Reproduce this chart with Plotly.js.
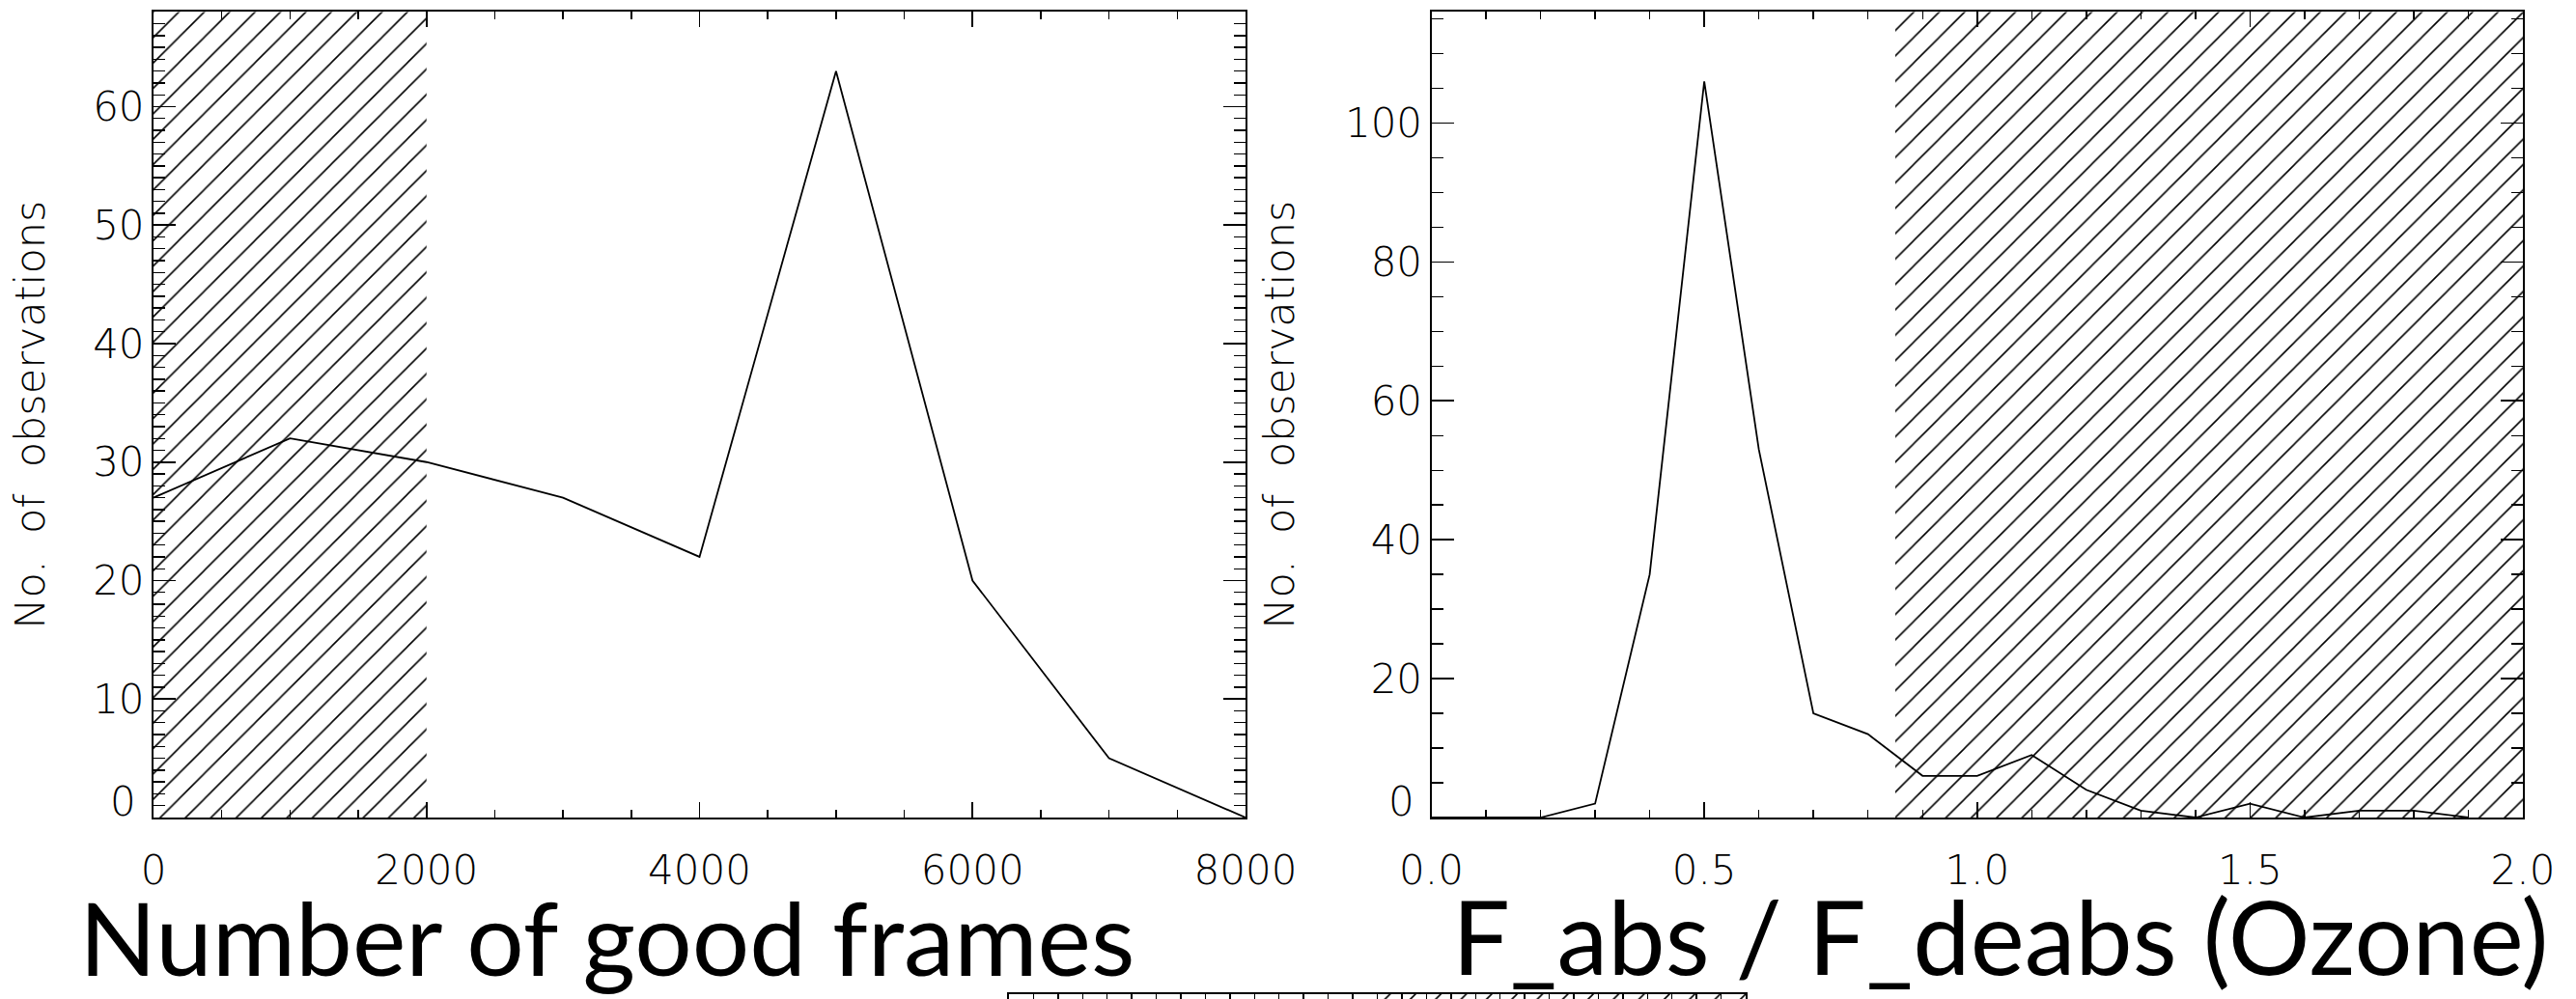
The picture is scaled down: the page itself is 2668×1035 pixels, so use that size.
<!DOCTYPE html>
<html>
<head>
<meta charset="utf-8">
<script src="https://cdn.plot.ly/plotly-3.0.1.min.js"></script>
<style>
  html, body { margin: 0; padding: 0; background: #ffffff; }
  #chart { width: 2668px; height: 1035px; }
</style>
</head>
<body>
<div id="chart"></div>
<script>
// ---- data ----
const framesX = [0, 1000, 2000, 3000, 4000, 5000, 6000, 7000, 8000];
const framesN = [27, 32, 30, 27, 22, 63, 20, 5, 0];

const ratioX = [0.0, 0.1, 0.2, 0.3, 0.4, 0.5, 0.6, 0.7, 0.8, 0.9, 1.0, 1.1, 1.2, 1.3, 1.4, 1.5, 1.6, 1.7, 1.8, 1.9];
const ratioN = [0, 0, 0, 2, 35, 106, 53, 15, 12, 6, 6, 9, 4, 1, 0, 2, 0, 1, 1, 0];

// hatched (rejected) intervals
const framesHatch = [0, 2000];
const ratioHatch = [0.85, 2.0];

// axis ranges
const framesXRange = [0, 8000];
const framesYRange = [0, 68];
const ratioXRange = [0, 2];
const ratioYRange = [0, 116];

// tick labels
const framesYTicks = [0, 10, 20, 30, 40, 50, 60];
const framesYText = ['', '10', '20', '30', '40', '50', '60'];
const ratioYTicks = [0, 20, 40, 60, 80, 100];
const ratioYText = ['', '20', '40', '60', '80', '100'];

// fragment of a panel cut off at the bottom edge
const fragRange = [0, 30];
const fragHatch = [15.2, 30];
const fragYRange = [0, 1];

const xTitleLeft = 'Number of good frames';
const xTitleRight = 'F_abs / F_deabs (Ozone)';
const yTitle = 'No.\u00a0 of\u00a0 observations';

// ---- helpers ----
function box(xs, ys) {
  return { x: [xs[0], xs[1], xs[1], xs[0], xs[0]], y: [ys[0], ys[0], ys[1], ys[1], ys[0]] };
}
function hatchTrace(xs, yr, xa, ya) {
  const b = box(xs, yr);
  return {
    type: 'scatter', mode: 'lines', x: b.x, y: b.y, xaxis: xa, yaxis: ya,
    fill: 'toself', fillcolor: 'rgba(0,0,0,0)',
    fillpattern: { shape: '/', size: 18.6, solidity: 0.085, fgcolor: '#000000', bgcolor: 'rgba(0,0,0,0)', fillmode: 'replace' },
    line: { width: 0, color: 'rgba(0,0,0,0)' },
    hoverinfo: 'skip', showlegend: false
  };
}

const tickFont = { family: 'DejaVu Sans', size: 42, weight: 200, color: '#000000' };
const titleFont = { family: 'DejaVu Sans', size: 43, weight: 200, color: '#000000' };
const bigFontL = { family: 'Lato', size: 105, color: '#000000' };
const bigFontR = { family: 'Lato', size: 106, color: '#000000' };

const rowDomain = [1 - 847 / 1035, 1 - 12.3 / 1035];

function xAxis(domain, range, dtick, minorDtick, anchor, fmt) {
  return {
    domain: domain, range: range, anchor: anchor,
    showline: true, linewidth: 2, linecolor: '#000000', mirror: 'allticks',
    ticks: 'inside', ticklen: 16, tickwidth: 1.6, tickcolor: '#000000',
    tick0: 0, dtick: dtick, tickformat: fmt,
    minor: { dtick: minorDtick, ticks: 'inside', ticklen: 8, tickwidth: 1.4, tickcolor: '#000000', showgrid: false },
    showgrid: false, zeroline: false,
    tickfont: tickFont, ticklabelstandoff: 17
  };
}
function yAxis(range, vals, text, minorDtick, anchor, standoff) {
  return {
    domain: rowDomain, range: range, anchor: anchor,
    showline: true, linewidth: 2, linecolor: '#000000', mirror: 'allticks',
    ticks: 'inside', ticklen: 23, tickwidth: 1.6, tickcolor: '#000000',
    tickmode: 'array', tickvals: vals, ticktext: text,
    minor: { dtick: minorDtick, ticks: 'inside', ticklen: 12, tickwidth: 1.4, tickcolor: '#000000', showgrid: false },
    showgrid: false, zeroline: false,
    tickfont: tickFont, ticklabelstandoff: -1,
    title: { text: yTitle, font: titleFont, standoff: standoff }
  };
}

const traces = [
  hatchTrace(framesHatch, framesYRange, 'x', 'y'),
  { type: 'scatter', mode: 'lines', x: framesX, y: framesN, xaxis: 'x', yaxis: 'y',
    line: { color: '#000000', width: 1.8 }, showlegend: false },
  hatchTrace(ratioHatch, ratioYRange, 'x2', 'y2'),
  { type: 'scatter', mode: 'lines', x: ratioX, y: ratioN, xaxis: 'x2', yaxis: 'y2',
    line: { color: '#000000', width: 1.8 }, showlegend: false },
  hatchTrace(fragHatch, fragYRange, 'x3', 'y3')
];

const layout = {
  width: 2668, height: 1035,
  margin: { l: 0, r: 0, t: 0, b: 0, pad: 0 },
  paper_bgcolor: '#ffffff', plot_bgcolor: '#ffffff',
  showlegend: false,
  xaxis: xAxis([159 / 2668, 1290 / 2668], framesXRange, 2000, 500, 'y', 'd'),
  yaxis: yAxis(framesYRange, framesYTicks, framesYText, 1, 'x', 36),
  xaxis2: xAxis([1482.5 / 2668, 2613 / 2668], ratioXRange, 0.5, 0.1, 'y2', '.1f'),
  yaxis2: yAxis(ratioYRange, ratioYTicks, ratioYText, 5, 'x2', 39),
  xaxis3: {
    domain: [1045 / 2668, 1808 / 2668], range: fragRange, anchor: 'y3', side: 'top',
    showline: true, linewidth: 2, linecolor: '#000000', mirror: false,
    ticks: 'inside', ticklen: 7, tickwidth: 1.4, tickcolor: '#000000', dtick: 1,
    showticklabels: false, showgrid: false, zeroline: false
  },
  yaxis3: {
    domain: [0, 5 / 1035], range: fragYRange, anchor: 'x3',
    showline: true, linewidth: 2, linecolor: '#000000', mirror: true,
    ticks: '', showticklabels: false, showgrid: false, zeroline: false
  },
  annotations: [
    { text: '0', xref: 'x', yref: 'y', x: 0, y: 0, xanchor: 'right', yanchor: 'bottom',
      xshift: -16, yshift: -10, showarrow: false, font: tickFont },
    { text: '0', xref: 'x2', yref: 'y2', x: 0, y: 0, xanchor: 'right', yanchor: 'bottom',
      xshift: -16, yshift: -10, showarrow: false, font: tickFont },
    { text: xTitleLeft, xref: 'paper', yref: 'paper', x: 80 / 2668, y: 0,
      xanchor: 'left', yanchor: 'bottom', showarrow: false, font: bigFontL },
    { text: xTitleRight, xref: 'paper', yref: 'paper', x: 1502 / 2668, y: 0,
      xanchor: 'left', yanchor: 'bottom', showarrow: false, font: bigFontR }
  ]
};

Plotly.newPlot('chart', traces, layout, { staticPlot: true, displayModeBar: false });
</script>
</body>
</html>
